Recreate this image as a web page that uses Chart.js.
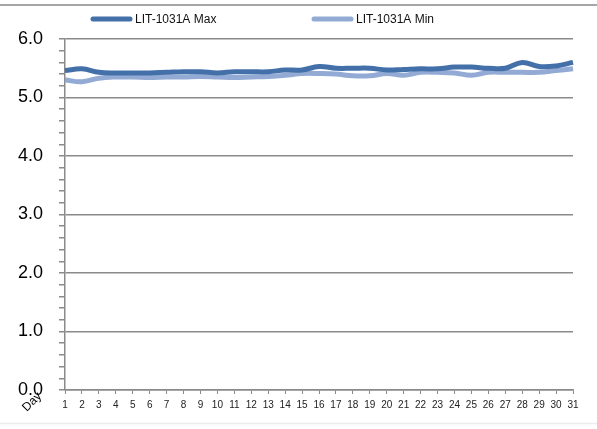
<!DOCTYPE html>
<html>
<head>
<meta charset="utf-8">
<script src="https://cdn.jsdelivr.net/npm/chart.js@4/dist/chart.umd.min.js"></script>
<style>
  html, body { margin: 0; padding: 0; background: #fff; }
  #wrap { width: 597px; height: 429px; position: relative; }
</style>
</head>
<body>
<div id="wrap"><canvas id="chart"></canvas></div>
<script>
// data
const days = ['1','2','3','4','5','6','7','8','9','10','11','12','13','14','15','16',
  '17','18','19','20','21','22','23','24','25','26','27','28','29','30','31'];
const maxName = 'LIT-1031A Max';
const minName = 'LIT-1031A Min';
const maxVals = [5.46, 5.49, 5.43, 5.42, 5.42, 5.42, 5.43, 5.44, 5.44, 5.42, 5.44, 5.44, 5.44, 5.47, 5.47, 5.53,
  5.50, 5.50, 5.50, 5.47, 5.48, 5.49, 5.49, 5.52, 5.52, 5.50, 5.50, 5.60, 5.53, 5.54, 5.60];
const minVals = [5.30, 5.27, 5.33, 5.35, 5.35, 5.34, 5.35, 5.35, 5.36, 5.35, 5.34, 5.35, 5.36, 5.38, 5.41, 5.41,
  5.40, 5.37, 5.37, 5.41, 5.38, 5.43, 5.43, 5.42, 5.38, 5.43, 5.43, 5.43, 5.43, 5.46, 5.49];
const xTitle = 'Day';

const maxColor = '#4470aa';
const minColor = '#93abd4';
const axisColor = '#8a8a8a';

const isMajor = v => Math.abs(v - Math.round(v)) < 1e-6;

// legend, axis title and frame lines
const extras = {
  id: 'extras',
  afterDraw (chart) {
    const ctx = chart.ctx;
    ctx.save();
    // frame lines
    ctx.strokeStyle = '#a6a6a6';
    ctx.lineWidth = 2;
    ctx.beginPath(); ctx.moveTo(0, 5); ctx.lineTo(597, 5); ctx.stroke();
    ctx.strokeStyle = '#ececec';
    ctx.lineWidth = 1.5;
    ctx.beginPath(); ctx.moveTo(0, 423.5); ctx.lineTo(597, 423.5); ctx.stroke();

    // legend
    ctx.font = '12px "Liberation Sans", Arial, sans-serif';
    ctx.textBaseline = 'middle';
    ctx.fillStyle = '#111';
    const spots = [91, 312];
    chart.data.datasets.forEach((ds, i) => {
      const x = spots[i];
      ctx.strokeStyle = ds.borderColor;
      ctx.lineWidth = 5;
      ctx.lineCap = 'round';
      ctx.beginPath(); ctx.moveTo(x + 2, 19); ctx.lineTo(x + 39, 19); ctx.stroke();
      ctx.fillText(ds.label, x + 44, 19.5);
    });

    // rotated x axis title
    ctx.translate(32, 402);
    ctx.rotate(-Math.PI / 4);
    ctx.font = '12px "Liberation Sans", Arial, sans-serif';
    ctx.textAlign = 'center';
    ctx.fillStyle = '#000';
    ctx.fillText(xTitle, 0, 0);
    ctx.restore();
  }
};

new Chart(document.getElementById('chart'), {
  type: 'line',
  data: {
    labels: days,
    datasets: [
      {
        label: maxName,
        data: maxVals,
        borderColor: maxColor,
        backgroundColor: maxColor,
        borderWidth: 5,
        pointRadius: 0,
        tension: 0.4,
        fill: false
      },
      {
        label: minName,
        data: minVals,
        borderColor: minColor,
        backgroundColor: minColor,
        borderWidth: 5,
        pointRadius: 0,
        tension: 0.4,
        fill: false
      }
    ]
  },
  options: {
    responsive: true,
    maintainAspectRatio: false,
    animation: false,
    layout: { padding: { top: 39, right: 24, left: 0, bottom: 0 } },
    plugins: {
      legend: { display: false },
      tooltip: { enabled: false }
    },
    scales: {
      x: {
        offset: false,
        afterFit: s => { s.height = 39; },
        border: { color: axisColor, width: 1.5 },
        grid: { drawOnChartArea: false, tickLength: 4, color: axisColor },
        ticks: {
          autoSkip: false,
          maxRotation: 0,
          padding: 5,
          color: '#222',
          font: { family: '"Liberation Sans", Arial, sans-serif', size: 10 }
        }
      },
      y: {
        min: 0,
        max: 6,
        afterFit: s => { s.width = 65; },
        border: { color: axisColor, width: 1.5 },
        grid: {
          tickLength: 6,
          lineWidth: 1.5,
          color: c => isMajor(c.tick.value) ? axisColor : 'rgba(0,0,0,0)',
          tickColor: axisColor
        },
        ticks: {
          stepSize: 0.2,
          autoSkip: false,
          padding: 16,
          color: '#000',
          font: { family: '"Liberation Sans", Arial, sans-serif', size: 18 },
          callback: v => isMajor(v) ? Number(v).toFixed(1) : ''
        }
      }
    }
  },
  plugins: [extras]
});
</script>
</body>
</html>
